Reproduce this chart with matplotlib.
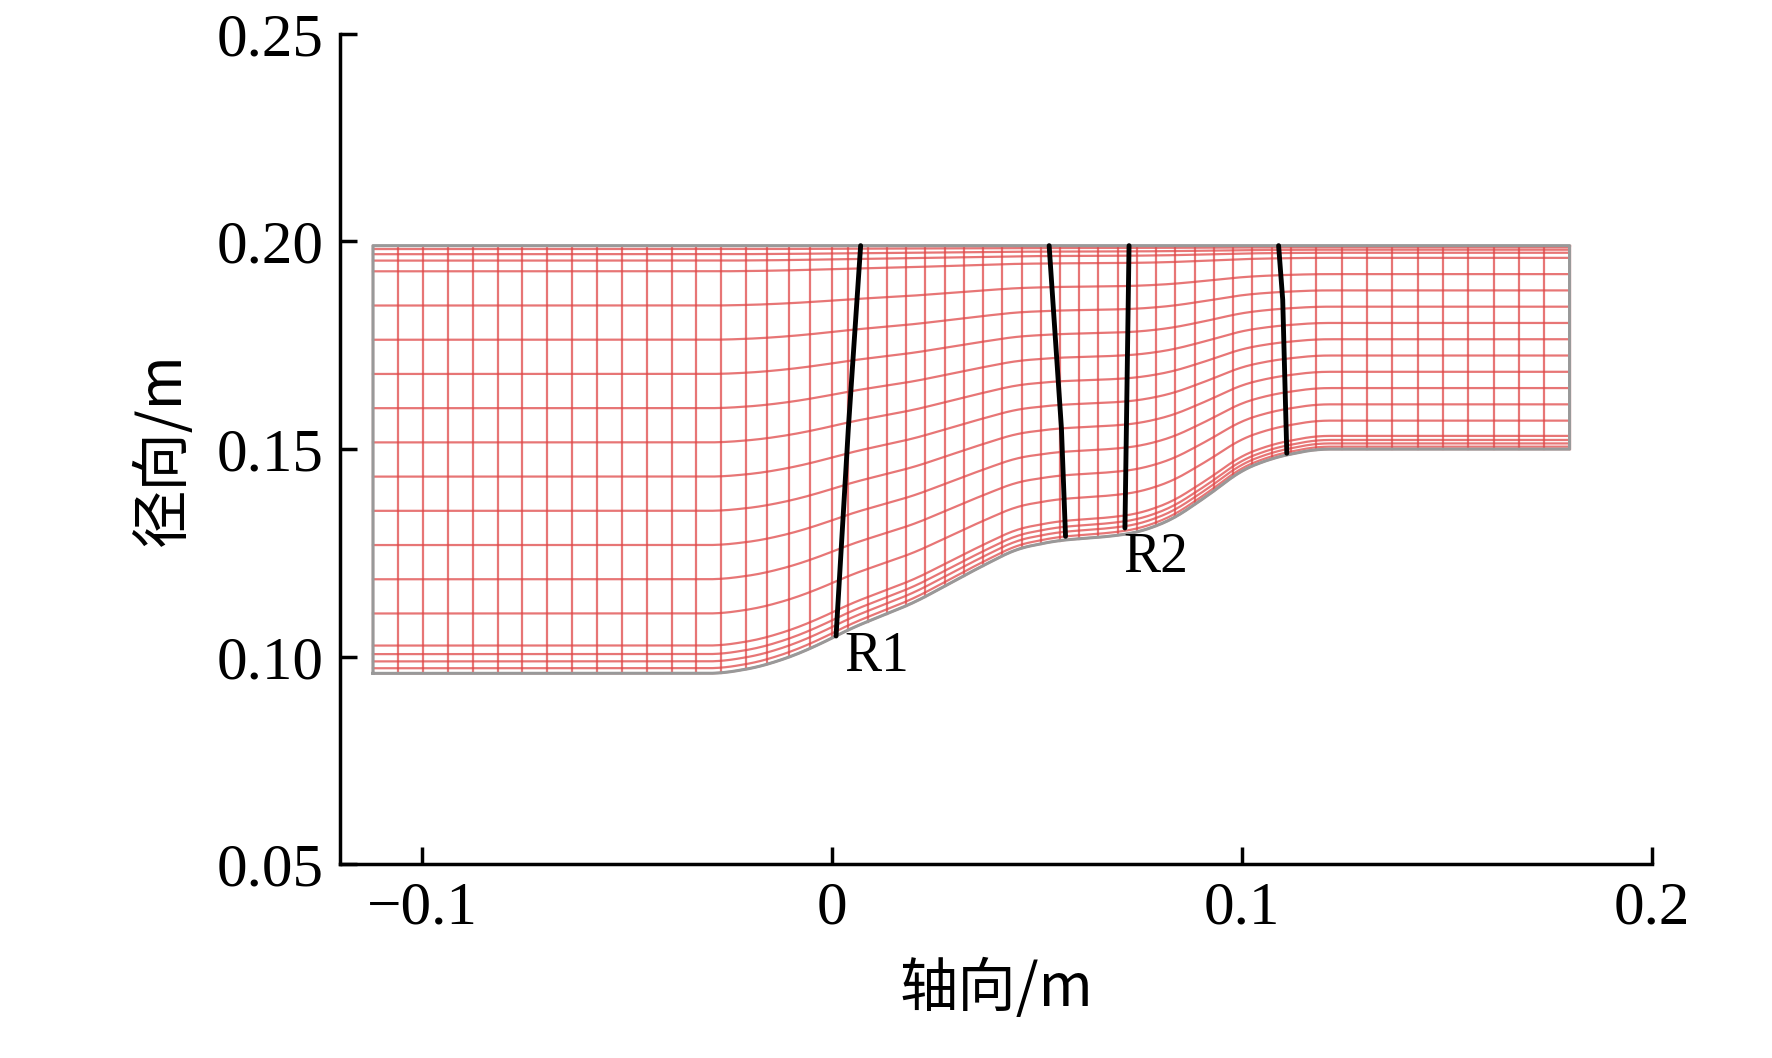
import numpy as np
import matplotlib.pyplot as plt

hub_x = [-0.112, -0.027, -0.018, -0.010, -0.003, 0.005, 0.020, 0.035, 0.045, 0.055, 0.068, 0.075, 0.083, 0.092, 0.100, 0.108, 0.118, 0.180]
hub_r = [0.096, 0.096, 0.0975, 0.100, 0.103, 0.107, 0.113, 0.121, 0.126, 0.128, 0.129, 0.130, 0.133, 0.139, 0.145, 0.148, 0.150, 0.150]
shroud_r = 0.199
span_frac = [0, 0.012, 0.028, 0.045, 0.065, 0.14, 0.22, 0.3, 0.38, 0.46, 0.54, 0.62, 0.70, 0.78, 0.86, 0.94, 0.965, 0.98, 0.992, 1.0]
col_x = list(np.round(np.concatenate([np.linspace(-0.112, -0.027, 15), np.linspace(-0.021, 0.0, 5),
        np.linspace(0.004, 0.112, 24)[:-1], np.linspace(0.112, 0.18, 12)]), 4))

blades = {
    'LE1': ([0.001, 0.004, 0.007], [0.105, 0.155, 0.199]),
    'TE1': ([0.057, 0.056, 0.053], [0.129, 0.155, 0.199]),
    'LE2': ([0.0715, 0.072, 0.0725], [0.131, 0.165, 0.199]),
    'TE2': ([0.111, 0.110, 0.109], [0.149, 0.186, 0.199]),
}
labels = [('R1', 0.003, 0.0965), ('R2', 0.071, 0.1205)]

plt.rcParams['font.family'] = ['Liberation Serif', 'Noto Sans CJK SC']
fig = plt.figure(figsize=(17.72, 10.58), dpi=100)
ax = fig.add_axes([0.192, 0.183, 0.74, 0.785])

xs = np.linspace(-0.112, 0.18, 600)
hub = np.interp(xs, hub_x, hub_r)
k = np.ones(15) / 15
hp = np.pad(hub, 7, mode='edge')
hub = np.convolve(hp, k, mode='valid')
red = '#e04848'
for f in span_frac:
    ax.plot(xs, hub + f * (shroud_r - hub), color=red, lw=1.6, alpha=0.75)
for cx in col_x:
    h = np.interp(cx, xs, hub)
    ax.plot([cx, cx], [h, shroud_r], color=red, lw=1.6, alpha=0.75)
ax.plot(np.concatenate([xs, xs[::-1], xs[:1]]),
        np.concatenate([hub, np.full_like(xs, shroud_r), hub[:1]]), color='#999999', lw=2.2)
for bx, br in blades.values():
    ax.plot(bx, br, color='black', lw=3.5, solid_capstyle='round')
for t, x, y in labels:
    ax.text(x, y, t, fontsize=40)

ax.set_xlim(-0.12, 0.2)
ax.set_ylim(0.05, 0.25)
ax.set_xticks([-0.1, 0, 0.1, 0.2])
ax.set_xticklabels(['−0.1', '0', '0.1', '0.2'])
ax.set_yticks([0.05, 0.10, 0.15, 0.20, 0.25])
ax.set_yticklabels(['0.05', '0.10', '0.15', '0.20', '0.25'])
for s in ['top', 'right']:
    ax.spines[s].set_visible(False)
for s in ['left', 'bottom']:
    ax.spines[s].set_linewidth(2.5)
ax.tick_params(direction='in', length=12, width=2.5, labelsize=44, pad=12)
ax.set_xlabel('轴向/m', fontsize=42, family=['Noto Sans CJK SC'], labelpad=16)
ax.set_ylabel('径向/m', fontsize=42, family=['Noto Sans CJK SC'], labelpad=16)
fig.savefig('out.png', dpi=100)
